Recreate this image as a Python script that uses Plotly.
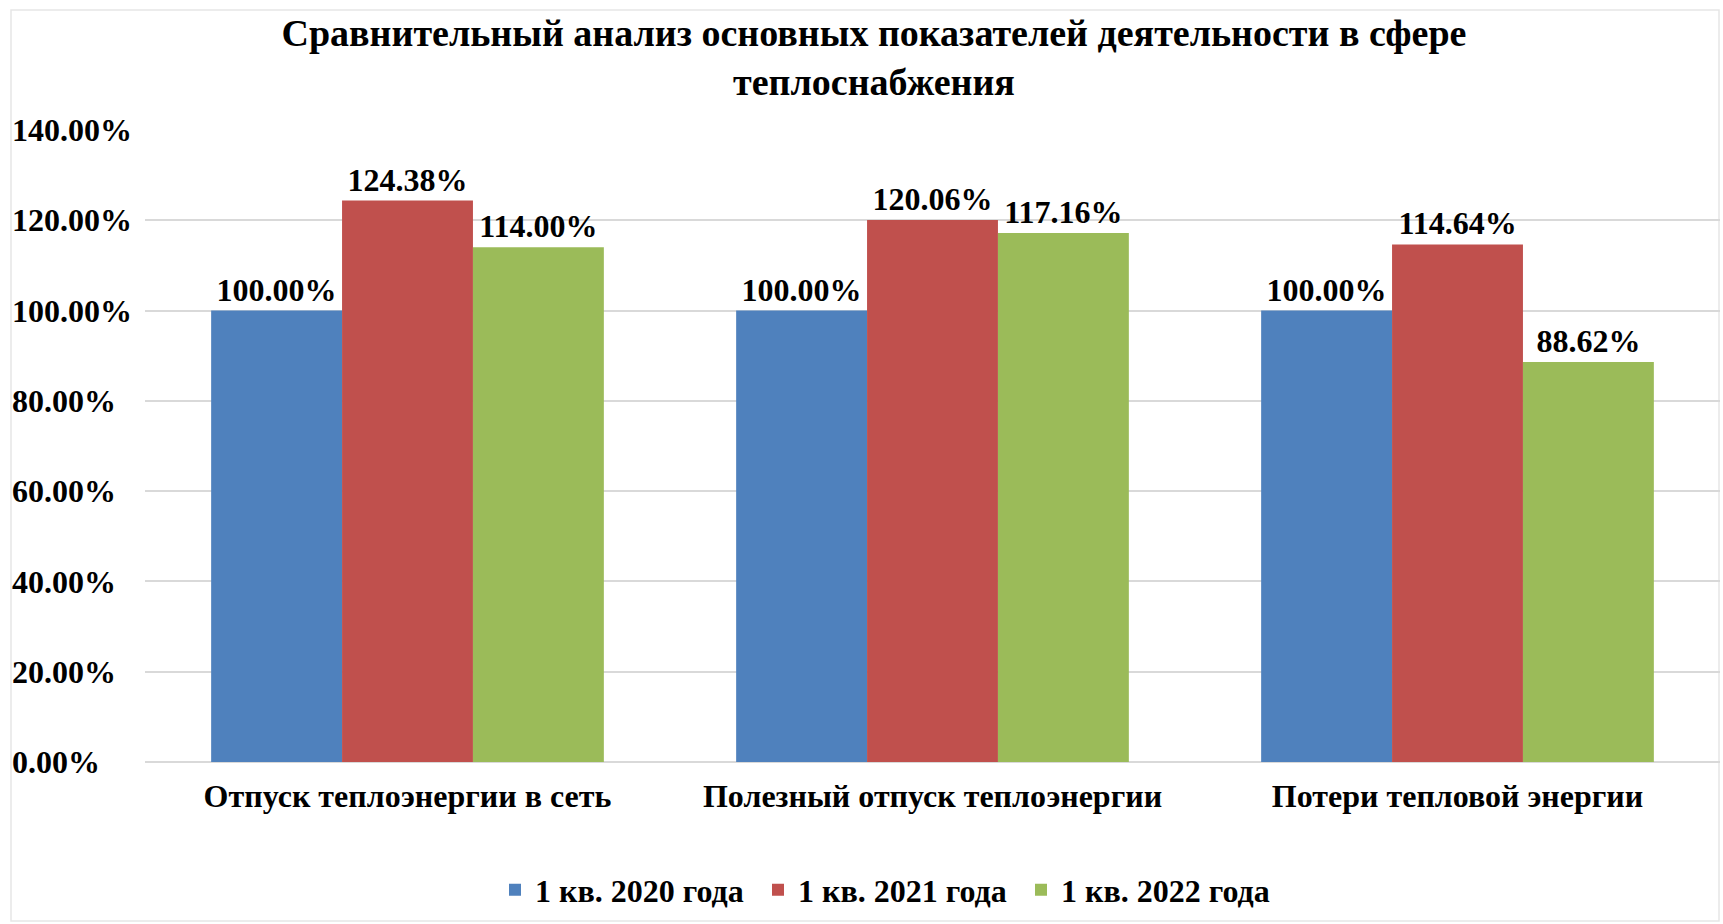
import plotly.graph_objects as go

categories = ["Отпуск теплоэнергии в сеть", "Полезный отпуск теплоэнергии", "Потери тепловой энергии"]
series_names = ["1 кв. 2020 года", "1 кв. 2021 года", "1 кв. 2022 года"]
values_2020 = [1.0000, 1.0000, 1.0000]
values_2021 = [1.2438, 1.2006, 1.1464]
values_2022 = [1.1400, 1.1716, 0.8862]
colors = ["#4F81BD", "#C0504D", "#9BBB59"]
tick_values = [0, 0.2, 0.4, 0.6, 0.8, 1.0, 1.2, 1.4]
title_text = "Сравнительный анализ основных показателей деятельности в сфере<br>теплоснабжения"

W, H = 1723, 924
ML, MR, MT, MB = 8, 3, 130, 162
PLOT_LEFT = 145
FONT = "Liberation Serif"
FS = 32

fig = go.Figure()
for name, vals, col in zip(series_names, [values_2020, values_2021, values_2022], colors):
    fig.add_trace(go.Bar(
        x=categories, y=vals, name=name, marker=dict(color=col, line=dict(width=0)),
        texttemplate="%{y:.2%}", textposition="outside", cliponaxis=False,
        textfont=dict(family=FONT, size=FS, color="#000000", weight="bold"),
    ))

pw = W - ML - MR
ph = H - MT - MB
dom0 = (PLOT_LEFT - ML) / pw

fig.update_layout(
    width=W, height=H,
    margin=dict(l=ML, r=MR, t=MT, b=MB),
    paper_bgcolor="white", plot_bgcolor="white",
    barmode="group", bargap=0.252, bargroupgap=0,
    title=dict(text=title_text, x=874 / W, xref="container", xanchor="center",
               y=1 - 46 / H, yref="container", yanchor="middle",
               font=dict(family=FONT, size=38, color="#000000", weight="bold")),
    xaxis=dict(domain=[dom0, 1], showline=False, ticks="", ticklabelstandoff=12,
               tickfont=dict(family=FONT, size=FS, color="#000000", weight="bold")),
    yaxis=dict(range=[0, 1.4], tickvals=tick_values, showticklabels=False,
               showgrid=True, gridcolor="#D9D9D9", gridwidth=1.5,
               zeroline=True, zerolinecolor="#D9D9D9", zerolinewidth=1.5),
    yaxis2=dict(range=[0, 1.4], tickvals=tick_values, tickformat=".2%",
                overlaying="y", anchor="free", position=0, side="left",
                ticklabelposition="inside", ticklabeloverflow="allow",
                showgrid=False, zeroline=False, showline=False,
                ticks="", tickfont=dict(family=FONT, size=FS, color="#000000", weight="bold")),
    legend=dict(orientation="h", xref="container", x=(505 - 10) / W, xanchor="left",
                yref="container", y=1 - 890 / H, yanchor="middle",
                font=dict(family=FONT, size=FS, color="#000000", weight="bold"),
                itemwidth=30, entrywidth=218, entrywidthmode="pixels", traceorder="normal"),
    showlegend=True,
)

# invisible helper trace to bind yaxis2
fig.add_trace(go.Scatter(x=[categories[0]], y=[0], yaxis="y2", mode="markers",
                         marker=dict(opacity=0), showlegend=False, hoverinfo="skip"))

# light chart border
bx0, bx1, by0, by1 = 11, 1719, 10, 921
fig.add_shape(type="rect", xref="paper", yref="paper",
              x0=(bx0 - ML) / pw, x1=(bx1 - ML) / pw,
              y0=1 - (by1 - MT) / ph, y1=1 - (by0 - MT) / ph,
              line=dict(color="#E6E6E6", width=1.5), fillcolor="rgba(0,0,0,0)", layer="below")

fig.write_html("out.html", config={"displayModeBar": False},
               post_script="document.body.style.margin='0';document.body.style.overflow='hidden';")
